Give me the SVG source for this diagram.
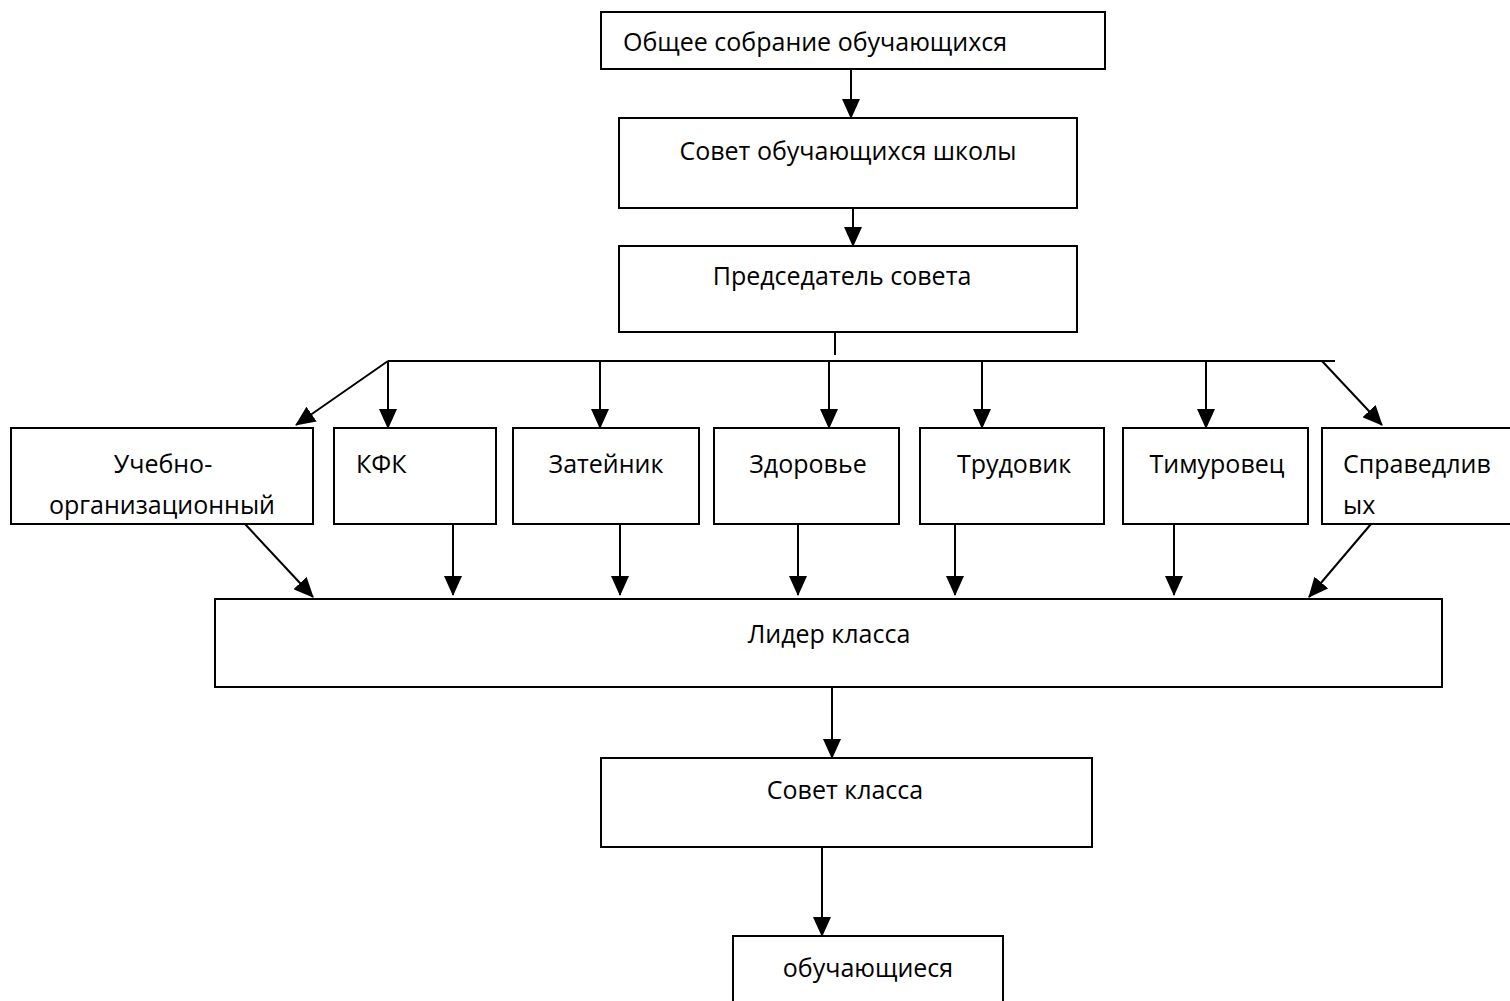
<svg xmlns="http://www.w3.org/2000/svg" width="1510" height="1001" viewBox="0 0 1510 1001">
<style>
.box{fill:#fff;stroke:#000;stroke-width:2}
.t{font-family:"Open Sans","Noto Sans","DejaVu Sans",sans-serif;font-size:25px;fill:#000}
.c{text-anchor:middle}
.ln{stroke:#000;stroke-width:2;fill:none}
</style>
<defs>
<marker id="ah" markerUnits="userSpaceOnUse" markerWidth="20" markerHeight="18" refX="19" refY="9" orient="auto">
<path d="M0,0 L20,9 L0,18 Z" fill="#000"/>
</marker>
</defs>
<rect width="1510" height="1001" fill="#fff"/>
<g id="n1"><rect class="box" x="601" y="12" width="504" height="57"/><text class="t" x="623" y="51">Общее собрание обучающихся</text></g>
<g id="n2"><rect class="box" x="619" y="118" width="458" height="90"/><text class="t c" x="848" y="160">Совет обучающихся школы</text></g>
<g id="n3"><rect class="box" x="619" y="246" width="458" height="86"/><text class="t c" x="842" y="285">Председатель совета</text></g>
<g id="n4"><rect class="box" x="11" y="428" width="302" height="96"/><text class="t c" x="163" y="473">Учебно-</text><text class="t c" x="162" y="514">организационный</text></g>
<g id="n5"><rect class="box" x="334" y="428" width="162" height="96"/><text class="t" x="356" y="473">КФК</text></g>
<g id="n6"><rect class="box" x="513" y="428" width="186" height="96"/><text class="t c" x="606" y="473">Затейник</text></g>
<g id="n7"><rect class="box" x="714" y="428" width="185" height="96"/><text class="t c" x="808" y="473">Здоровье</text></g>
<g id="n8"><rect class="box" x="920" y="428" width="184" height="96"/><text class="t c" x="1014" y="473">Трудовик</text></g>
<g id="n9"><rect class="box" x="1123" y="428" width="185" height="96"/><text class="t c" x="1217" y="473">Тимуровец</text></g>
<g id="n10"><rect class="box" x="1322" y="428" width="200" height="96"/><text class="t" x="1343" y="473">Справедлив</text><text class="t" x="1343" y="514">ых</text></g>
<g id="n11"><rect class="box" x="215" y="599" width="1227" height="88"/><text class="t c" x="829" y="643">Лидер класса</text></g>
<g id="n12"><rect class="box" x="601" y="758" width="491" height="89"/><text class="t c" x="845" y="799">Совет класса</text></g>
<g id="n13"><rect class="box" x="733" y="936" width="270" height="80"/><text class="t c" x="868" y="977">обучающиеся</text></g>
<g id="connectors">
<line class="ln" x1="851" y1="69" x2="851" y2="118" marker-end="url(#ah)"/>
<line class="ln" x1="853" y1="208" x2="853" y2="246" marker-end="url(#ah)"/>
<line class="ln" x1="835" y1="332" x2="835" y2="355"/>
<line class="ln" x1="388" y1="361" x2="1335" y2="361"/>
<line class="ln" x1="388" y1="361" x2="296" y2="425" marker-end="url(#ah)"/>
<line class="ln" x1="388" y1="361" x2="388" y2="428" marker-end="url(#ah)"/>
<line class="ln" x1="600" y1="361" x2="600" y2="428" marker-end="url(#ah)"/>
<line class="ln" x1="829" y1="361" x2="829" y2="428" marker-end="url(#ah)"/>
<line class="ln" x1="982" y1="361" x2="982" y2="428" marker-end="url(#ah)"/>
<line class="ln" x1="1206" y1="361" x2="1206" y2="428" marker-end="url(#ah)"/>
<line class="ln" x1="1322" y1="361" x2="1382" y2="425" marker-end="url(#ah)"/>
<line class="ln" x1="245" y1="524" x2="313" y2="597" marker-end="url(#ah)"/>
<line class="ln" x1="453" y1="524" x2="453" y2="595" marker-end="url(#ah)"/>
<line class="ln" x1="620" y1="524" x2="620" y2="595" marker-end="url(#ah)"/>
<line class="ln" x1="798" y1="524" x2="798" y2="595" marker-end="url(#ah)"/>
<line class="ln" x1="955" y1="524" x2="955" y2="595" marker-end="url(#ah)"/>
<line class="ln" x1="1174" y1="524" x2="1174" y2="595" marker-end="url(#ah)"/>
<line class="ln" x1="1371" y1="524" x2="1309" y2="597" marker-end="url(#ah)"/>
<line class="ln" x1="832" y1="687" x2="832" y2="758" marker-end="url(#ah)"/>
<line class="ln" x1="822" y1="847" x2="822" y2="936" marker-end="url(#ah)"/>
</g>
</svg>
